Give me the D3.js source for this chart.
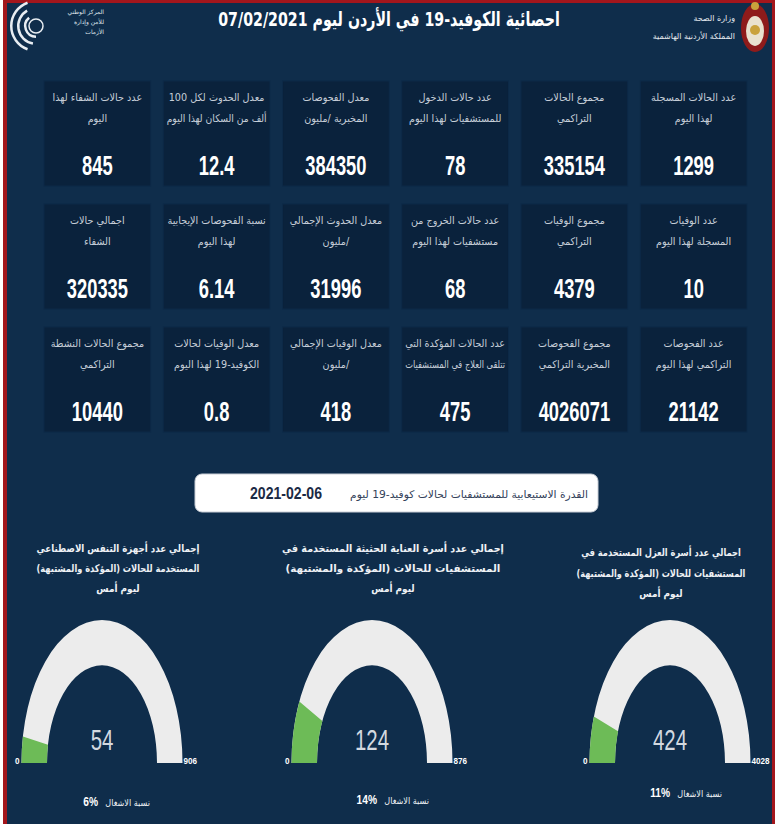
<!DOCTYPE html>
<html><head><meta charset="utf-8">
<script src="https://cdn.jsdelivr.net/npm/d3@7"></script>
<style>html,body{margin:0;padding:0;background:#fff;}svg{display:block}</style>
</head><body>
<script>
// ---------- DATA ----------
const headerTitle = "احصائية الكوفيد-19 في الأردن ليوم  07/02/2021";
const ministryLines = ["وزارة الصحة", "المملكة الأردنية الهاشمية"];
const centerLines = ["المركز الوطني", "للأمن وإدارة", "الأزمات"];

// tiles, each row listed right-to-left (as read)
const row1Labels = [["عدد الحالات المسجلة","لهذا اليوم"],["مجموع الحالات","التراكمي"],["عدد حالات الدخول","للمستشفيات لهذا اليوم"],["معدل الفحوصات","المخبرية /مليون"],["معدل الحدوث لكل 100","ألف من السكان لهذا اليوم"],["عدد حالات الشفاء لهذا","اليوم"]];
const row1Values = ["1299","335154","78","384350","12.4","845"];
const row2Labels = [["عدد الوفيات","المسجلة لهذا اليوم"],["مجموع الوفيات","التراكمي"],["عدد حالات الخروج من","مستشفيات لهذا اليوم"],["معدل الحدوث الإجمالي","/مليون"],["نسبة الفحوصات الإيجابية","لهذا اليوم"],["اجمالي حالات","الشفاء"]];
const row2Values = ["10","4379","68","31996","6.14","320335"];
const row3Labels = [["عدد الفحوصات","التراكمي لهذا اليوم"],["مجموع الفحوصات","المخبرية التراكمي"],["عدد الحالات المؤكدة التي","تتلقى العلاج في المستشفيات"],["معدل الوفيات الإجمالي","/مليون"],["معدل الوفيات لحالات","الكوفيد-19 لهذا اليوم"],["مجموع الحالات النشطة","التراكمي"]];
const row3Values = ["21142","4026071","475","418","0.8","10440"];

const bannerText = "القدرة الاستيعابية للمستشفيات لحالات كوفيد-19 ليوم";
const bannerDate = "2021-02-06";

// gauges, left to right
const gaugeTitles = [
  ["إجمالي عدد أجهزة التنفس الاصطناعي","المستخدمة للحالات (المؤكدة والمشتبهة)","ليوم أمس"],
  ["إجمالي عدد أسرة العناية الحثيثة المستخدمة في","المستشفيات للحالات (المؤكدة والمشتبهة)","ليوم أمس"],
  ["اجمالي عدد أسرة العزل المستخدمة في","المستشفيات للحالات (المؤكدة والمشتبهة)","ليوم أمس"]
];
const gaugeValues = [54, 124, 424];
const gaugeMax = [906, 876, 4028];
const gaugePct = ["6%", "14%", "11%"];
const pctLabel = "نسبة الاشغال";

// ---------- LAYOUT ----------
const W = 777, H = 824;
const BG = "#0f2d4b", TILE = "#0a223c", RED = "#a3161c";
const AR = "'DejaVu Sans', sans-serif";
const NUM = "'Liberation Sans', Arial, sans-serif";

const svg = d3.select("body").append("svg").attr("width", W).attr("height", H);
svg.append("rect").attr("width", W).attr("height", H).attr("fill", "#fff");
svg.append("rect").attr("x", 3).attr("y", 0).attr("width", 772).attr("height", H).attr("fill", RED);
svg.append("rect").attr("x", 7).attr("y", 3).attr("width", 765).attr("height", H - 3).attr("fill", BG);

// text helper: horizontal squash via transform (sx), optional max width / exact width
function T(parent, x, y, str, o) {
  const t = parent.append("text").text(str)
    .attr("text-anchor", o.anchor || "middle")
    .attr("font-family", o.family || AR)
    .attr("font-size", o.size || 10)
    .attr("fill", o.fill || "#fff");
  if (o.bold) t.attr("font-weight", "bold");
  if (o.rtl) t.attr("direction", "rtl");
  const l = t.node().getComputedTextLength();
  let sx = o.sx || 1;
  if (o.w) sx = o.w / l;
  if (o.maxW && l * sx > o.maxW) sx = o.maxW / l;
  t.attr("transform", `translate(${x},${y}) scale(${sx},1)`);
  return t;
}

// ---------- HEADER ----------
T(svg, 389, 26, headerTitle, { rtl: true, bold: true, size: 20, w: 342 });

// left logo (simplified)
const lg = svg.append("g").attr("transform", "translate(36,26)");
[[26, 200, 340], [19, 190, 330], [12, 180, 320]].forEach(([r, a0, a1]) => {
  lg.append("path").attr("d", d3.arc().innerRadius(r - 2.5).outerRadius(r)
    .startAngle(a0 * Math.PI / 180).endAngle(a1 * Math.PI / 180)())
    .attr("fill", "#e8edf2");
});
lg.append("circle").attr("r", 7).attr("fill", "none").attr("stroke", "#e8edf2").attr("stroke-width", 1.5);
centerLines.forEach((d, i) => T(svg, 104, 14 + i * 10, d, { rtl: true, anchor: "start", size: 6, fill: "#dfe5ec" }));

// right emblem (simplified)
const em = svg.append("g").attr("transform", "translate(755,28)");
em.append("ellipse").attr("rx", 14).attr("ry", 24).attr("fill", "#8e1b1b");
em.append("ellipse").attr("rx", 9).attr("ry", 15).attr("cy", 3).attr("fill", "#e9e2cf");
em.append("circle").attr("r", 5).attr("cy", 2).attr("fill", "#c9a23c");
em.append("circle").attr("r", 4).attr("cy", -22).attr("fill", "#c9a23c");
ministryLines.forEach((d, i) => T(svg, 735, 21 + i * 18, d, { rtl: true, anchor: "start", size: 8, fill: "#e6ebf0" }));

// ---------- TILES ----------
const colX = d3.scaleBand().domain(d3.range(6)).range([37.75, 753.25]).paddingInner(0.105).paddingOuter(0.0525);
const rowY = d3.scaleBand().domain(d3.range(3)).range([72, 441]).paddingInner(0.146).paddingOuter(0.073);
const rows = [[row1Labels, row1Values], [row2Labels, row2Values], [row3Labels, row3Values]];
const tiles = [];
rows.forEach(([labs, vals], r) => labs.forEach((lab, j) => tiles.push({ r, c: 5 - j, lab, val: vals[j] })));

const tg = svg.selectAll(".tile").data(tiles).join("g").attr("class", "tile")
  .attr("transform", d => `translate(${colX(d.c)},${rowY(d.r)})`);
tg.append("rect").attr("width", colX.bandwidth()).attr("height", rowY.bandwidth())
  .attr("fill", TILE).attr("stroke", "#0d2a48").attr("stroke-width", 1);
tg.each(function (d) {
  const g = d3.select(this), cx = colX.bandwidth() / 2;
  d.lab.forEach((line, k) => T(g, cx, 20 + k * 21, line, { rtl: true, size: 10.5, fill: "#c6ced8", maxW: 100, sx: 0.92 }));
  T(g, cx, 94, d.val, { family: NUM, bold: true, size: 27, sx: 0.68 });
});

// ---------- BANNER ----------
svg.append("rect").attr("x", 195).attr("y", 474).attr("width", 403).attr("height", 38)
  .attr("rx", 7).attr("fill", "#fff").attr("stroke", "#c9ced6");
T(svg, 286, 499, bannerDate, { family: NUM, bold: true, size: 16, fill: "#1b2a44", w: 72 });
T(svg, 588, 498, bannerText, { rtl: true, anchor: "start", size: 10.5, fill: "#34425a", w: 238 });

// ---------- GAUGES ----------
const gaugeCx = [102, 372, 670];
const titleCx = [118, 393, 661];
const titleY = [[552, 572, 592], [552, 572, 592], [556, 577, 597]];
const titleW = [[163, 163], [222, 215], [160, 169]];
const pctCx = [112, 391, 684];
const pctY = [806, 804, 797];
const base = 763, rOut = 80.5, rIn = 55, sy = 143 / 80.5;

gaugeValues.forEach((v, i) => {
  gaugeTitles[i].forEach((line, k) => {
    T(svg, titleCx[i], titleY[i][k], line, { rtl: true, bold: true, size: 10.5, fill: "#eef1f5", w: k < 2 ? titleW[i][k] : undefined, sx: 0.85 });
  });
  const ang = d3.scaleLinear().domain([0, gaugeMax[i]]).range([-Math.PI / 2, Math.PI / 2]);
  const arc = d3.arc().innerRadius(rIn).outerRadius(rOut);
  const g = svg.append("g").attr("transform", `translate(${gaugeCx[i]},${base}) scale(1,${sy})`);
  g.append("path").attr("d", arc({ startAngle: ang(0), endAngle: ang(gaugeMax[i]) })).attr("fill", "#ececec");
  g.append("path").attr("d", arc({ startAngle: ang(0), endAngle: ang(v) })).attr("fill", "#6dbb57");

  T(svg, gaugeCx[i], 750, v, { family: NUM, size: 30, fill: "#d3d9e0", sx: 0.68 });
  T(svg, gaugeCx[i] - rOut - 2, 764, ang.domain()[0], { family: NUM, bold: true, size: 9, anchor: "end", sx: 0.9 });
  T(svg, gaugeCx[i] + rOut + 1, 764, gaugeMax[i], { family: NUM, bold: true, size: 9, anchor: "start", sx: 0.9 });

  T(svg, pctCx[i] + 38, pctY[i], pctLabel, { rtl: true, anchor: "start", size: 9, fill: "#eef1f5", sx: 0.9 });
  T(svg, pctCx[i] - 14, pctY[i], gaugePct[i], { family: NUM, bold: true, size: 12, anchor: "end", sx: 0.85 });
});
</script>
</body></html>
